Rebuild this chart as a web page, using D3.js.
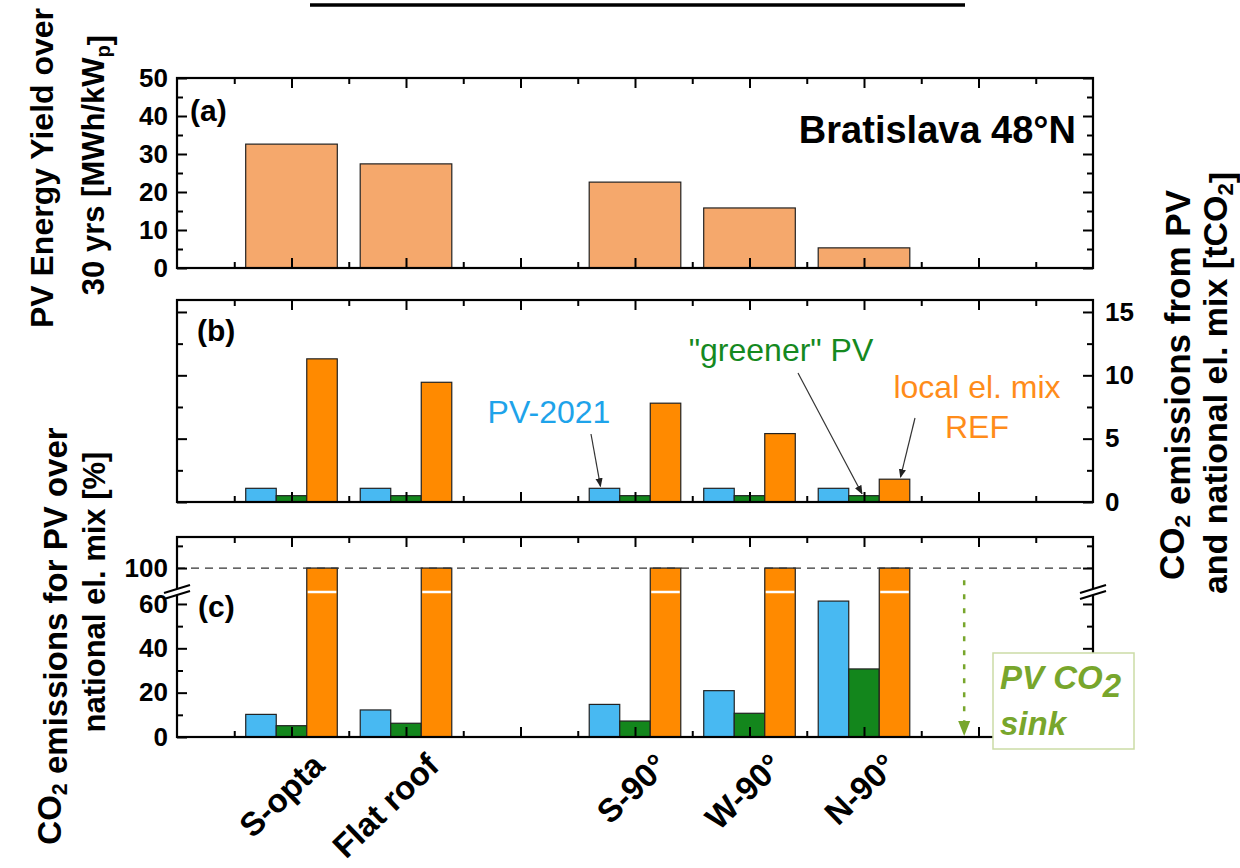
<!DOCTYPE html>
<html>
<head>
<meta charset="utf-8">
<script src="https://cdn.jsdelivr.net/npm/d3@7"></script>
<style>
body { margin: 0; background: #fff; }
text { font-family: "Liberation Sans", Arial, sans-serif; }
</style>
</head>
<body>
<svg id="chart" width="1240" height="868"></svg>
<script>
// categories sit on an x scale of 0..16 units (ticks every unit)
var categories = ['S-opta', 'Flat roof', 'S-90°', 'W-90°', 'N-90°'];
var catPos = [2, 4, 8, 10, 12];

// (a) PV energy yield over 30 yrs [MWh/kWp]
var yieldMWh = [32.6, 27.4, 22.6, 15.8, 5.3];

// (b) CO2 emissions [tCO2]
var co2PV2021 = [1.08, 1.08, 1.08, 1.08, 1.08];
var co2Greener = [0.5, 0.5, 0.5, 0.5, 0.5];
var co2Ref = [11.3, 9.45, 7.8, 5.4, 1.8];

// (c) CO2 emissions for PV over national el. mix [%]
var pctPV2021 = [10.2, 12.2, 14.7, 20.9, 61.3];
var pctGreener = [5.1, 6.2, 7.2, 10.7, 30.7];
var pctRef = [100, 100, 100, 100, 100];

var ticksA = [0, 10, 20, 30, 40, 50];
var ticksB = [0, 5, 10, 15];
var ticksCLow = [0, 20, 40, 60];
var ticksCUp = [100];

var colors = {
	peach: '#f5a86c',
	orange: '#ff8a00',
	blue: '#48b9f2',
	green: '#13861c',
	blueText: '#1ea3ea',
	greenText: '#15891f',
	orangeText: '#ff8c1a',
	sink: '#78a62c'
};

var svg = d3.select('#chart');
var L = 177, R = 1093;
var pA = {top: 78, bottom: 268},
	pB = {top: 300, bottom: 502},
	pC = {top: 537, bottom: 737},
	breakY = 592;

var x = d3.scaleLinear().domain([0, 16]).range([L, R]);
var yA = d3.scaleLinear().domain([0, 50]).range([pA.bottom, pA.top]);
var yB = d3.scaleLinear().domain([0, 16]).range([pB.bottom, 299.3]);
var yCLow = d3.scaleLinear().domain([0, 65.4]).range([pC.bottom, breakY]);
var yCUp = d3.scaleLinear().domain([89.2, 114]).range([breakY, pC.top]);
function yC(v) { return v <= 65.4 ? yCLow(v) : yCUp(v); }

var barW = 0.533;
var majorX = d3.range(2, 16, 2), minorX = d3.range(1, 16, 2);

function styleAxis(g) {
	g.select('.domain').remove();
	g.selectAll('.tick line').attr('stroke', '#000').attr('stroke-width', 2);
	g.selectAll('.tick text')
		.attr('font-size', 26).attr('font-weight', 'bold')
		.attr('font-family', '"Liberation Sans", Arial, sans-serif')
		.attr('fill', '#000');
}

function xTicks(top, bottom) {
	[[majorX, 10], [minorX, 6]].forEach(function (t) {
		svg.append('g').attr('transform', 'translate(0,' + top + ')')
			.call(d3.axisTop(x).tickValues(t[0]).tickSize(-t[1]).tickFormat(''))
			.call(styleAxis);
		svg.append('g').attr('transform', 'translate(0,' + bottom + ')')
			.call(d3.axisBottom(x).tickValues(t[0]).tickSize(-t[1]).tickFormat(''))
			.call(styleAxis);
	});
}

function yTicks(scale, major, minor, labelLeft, labelRight) {
	svg.append('g').attr('transform', 'translate(' + L + ',0)')
		.call(d3.axisLeft(scale).tickValues(major).tickSize(-10).tickPadding(9)
			.tickFormat(labelLeft ? d3.format('d') : ''))
		.call(styleAxis);
	svg.append('g').attr('transform', 'translate(' + L + ',0)')
		.call(d3.axisLeft(scale).tickValues(minor).tickSize(-6).tickFormat(''))
		.call(styleAxis);
	svg.append('g').attr('transform', 'translate(' + R + ',0)')
		.call(d3.axisRight(scale).tickValues(major).tickSize(-10).tickPadding(12)
			.tickFormat(labelRight ? d3.format('d') : ''))
		.call(styleAxis);
	svg.append('g').attr('transform', 'translate(' + R + ',0)')
		.call(d3.axisRight(scale).tickValues(minor).tickSize(-6).tickFormat(''))
		.call(styleAxis);
}

function bars(values, offset, width, yScale, base, fill) {
	svg.append('g').selectAll('rect').data(values).enter().append('rect')
		.attr('x', function (d, i) { return x(catPos[i] + offset - width / 2); })
		.attr('width', function () { return x(width) - x(0); })
		.attr('y', function (d) { return yScale(d); })
		.attr('height', function (d) { return base - yScale(d); })
		.attr('fill', fill)
		.attr('stroke', '#222')
		.attr('stroke-width', 1.2);
}

function frame(p) {
	svg.append('rect').attr('x', L).attr('y', p.top)
		.attr('width', R - L).attr('height', p.bottom - p.top)
		.attr('fill', 'none').attr('stroke', '#000').attr('stroke-width', 2.2);
}

// ---- panel (a)
bars(yieldMWh, 0, 1.6, yA, pA.bottom, colors.peach);
xTicks(pA.top, pA.bottom);
yTicks(yA, ticksA, [5, 15, 25, 35, 45], true, false);
frame(pA);

// ---- panel (b)
bars(co2PV2021, -barW, barW, yB, pB.bottom, colors.blue);
bars(co2Greener, 0, barW, yB, pB.bottom, colors.green);
bars(co2Ref, barW, barW, yB, pB.bottom, colors.orange);
xTicks(pB.top, pB.bottom);
yTicks(yB, ticksB, [2.5, 7.5, 12.5], false, true);
frame(pB);

// ---- panel (c), broken y axis
bars(pctPV2021, -barW, barW, yC, pC.bottom, colors.blue);
bars(pctGreener, 0, barW, yC, pC.bottom, colors.green);
bars(pctRef, barW, barW, yC, pC.bottom, colors.orange);
// white gap through the orange bars at the break
svg.append('g').selectAll('line').data(pctRef).enter().append('line')
	.attr('x1', function (d, i) { return x(catPos[i] + barW / 2) + 1; })
	.attr('x2', function (d, i) { return x(catPos[i] + barW * 1.5) - 1; })
	.attr('y1', breakY).attr('y2', breakY)
	.attr('stroke', '#fff').attr('stroke-width', 2.5);
svg.append('line')
	.attr('x1', L).attr('x2', R).attr('y1', yCUp(100)).attr('y2', yCUp(100))
	.attr('stroke', '#333').attr('stroke-width', 1.3).attr('stroke-dasharray', '8,6');
xTicks(pC.top, pC.bottom);
yTicks(yCLow, ticksCLow, [10, 30, 50], true, false);
yTicks(yCUp, ticksCUp, [110], true, false);
frame(pC);

// break marks on both y axes
[L, R].forEach(function (ax) {
	svg.append('rect').attr('x', ax - 3).attr('y', breakY - 3).attr('width', 6).attr('height', 6).attr('fill', '#fff');
	[-3, 3].forEach(function (dy) {
		svg.append('line')
			.attr('x1', ax - 13).attr('y1', breakY + dy + 4)
			.attr('x2', ax + 13).attr('y2', breakY + dy - 4)
			.attr('stroke', '#000').attr('stroke-width', 2);
	});
});

// ---- annotations
function label(txt, px, py, size, opts) {
	opts = opts || {};
	return svg.append('text').attr('x', px).attr('y', py)
		.attr('font-size', size)
		.attr('font-weight', opts.weight || 'bold')
		.attr('font-style', opts.style || 'normal')
		.attr('text-anchor', opts.anchor || 'start')
		.attr('fill', opts.fill || '#000')
		.text(txt);
}

label('(a)', 190, 121, 30);
label('(b)', 197, 341, 30);
label('(c)', 198, 617, 30);
label('Bratislava 48°N', 1076, 143, 38, {anchor: 'end'});

svg.append('defs').append('marker')
	.attr('id', 'head').attr('viewBox', '0 0 10 10')
	.attr('refX', 9).attr('refY', 5)
	.attr('markerWidth', 9).attr('markerHeight', 9)
	.attr('markerUnits', 'userSpaceOnUse')
	.attr('orient', 'auto')
	.append('path').attr('d', 'M0,1 L10,5 L0,9 Z').attr('fill', '#222');

function arrow(x1, y1, x2, y2) {
	svg.append('line').attr('x1', x1).attr('y1', y1).attr('x2', x2).attr('y2', y2)
		.attr('stroke', '#333').attr('stroke-width', 1.2)
		.attr('marker-end', 'url(#head)');
}

label('PV-2021', 549, 423, 32, {weight: 'normal', anchor: 'middle', fill: colors.blueText});
arrow(591, 434, x(catPos[2] - barW) - 4, yB(co2PV2021[2]) - 2);

label('"greener" PV', 781, 361, 32, {weight: 'normal', anchor: 'middle', fill: colors.greenText});
arrow(798, 373, x(catPos[4]) - 2, yB(co2Greener[4]) - 2);

label('local el. mix', 977, 398, 32, {weight: 'normal', anchor: 'middle', fill: colors.orangeText});
label('REF', 977, 438, 32, {weight: 'normal', anchor: 'middle', fill: colors.orangeText});
arrow(915, 418, x(catPos[4] + barW) + 6, yB(co2Ref[4]) - 2);

// PV CO2 sink
var sinkX = x(13.75);
svg.append('line').attr('x1', sinkX).attr('x2', sinkX)
	.attr('y1', yCUp(94.5)).attr('y2', pC.bottom - 10)
	.attr('stroke', colors.sink).attr('stroke-width', 2.5).attr('stroke-dasharray', '5,9');
svg.append('path')
	.attr('d', 'M' + (sinkX - 6) + ',' + (pC.bottom - 16) + 'L' + (sinkX + 6) + ',' + (pC.bottom - 16) + 'L' + sinkX + ',' + (pC.bottom - 1) + 'Z')
	.attr('fill', colors.sink);
svg.append('rect').attr('x', 993).attr('y', 653).attr('width', 141).attr('height', 96)
	.attr('fill', '#fff').attr('stroke', '#cbdca6').attr('stroke-width', 1.5);
var s1 = label('PV CO', 1000, 689, 33, {style: 'italic', fill: colors.sink});
s1.append('tspan').attr('dy', 8).text('2');
label('sink', 1000, 735, 33, {style: 'italic', fill: colors.sink});

// category labels, rotated
svg.append('g').selectAll('text').data(categories).enter().append('text')
	.attr('transform', function (d, i) { return 'translate(' + (x(catPos[i]) + 35) + ',768) rotate(-44)'; })
	.attr('text-anchor', 'end')
	.attr('font-size', 33).attr('font-weight', 'bold')
	.text(function (d) { return d; });

// axis titles
function vtitle(px, py, parts, size) {
	var t = svg.append('text')
		.attr('transform', 'translate(' + px + ',' + py + ') rotate(-90)')
		.attr('text-anchor', 'middle').attr('font-size', size).attr('font-weight', 'bold');
	parts.forEach(function (p) {
		if (p.sub) {
			t.append('tspan').attr('font-size', size * 0.65).attr('dy', 6).text(p.sub);
			t.append('tspan').attr('dy', -6).text('');
		} else {
			t.append('tspan').text(p.t);
		}
	});
}
vtitle(53, 168, [{t: 'PV Energy Yield over'}], 32);
vtitle(104, 165, [{t: '30 yrs [MWh/kW'}, {sub: 'p'}, {t: ']'}], 31);
vtitle(61, 636, [{t: 'CO'}, {sub: '2'}, {t: ' emissions for PV over'}], 33);
vtitle(105, 592, [{t: 'national el. mix [%]'}], 31);
vtitle(1184, 385, [{t: 'CO'}, {sub: '2'}, {t: ' emissions from PV'}], 35);
vtitle(1227, 383, [{t: 'and  national el. mix  [tCO'}, {sub: '2'}, {t: ']'}], 34);

// underline of the title cut off above the picture
svg.append('line').attr('x1', 310).attr('x2', 965).attr('y1', 5).attr('y2', 5)
	.attr('stroke', '#000').attr('stroke-width', 3.5);
</script>
</body>
</html>
